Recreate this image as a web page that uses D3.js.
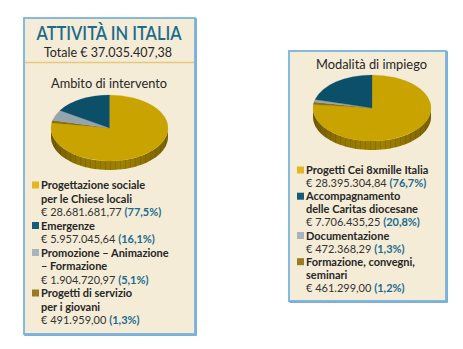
<!DOCTYPE html>
<html><head><meta charset="utf-8">
<script src="https://cdn.jsdelivr.net/npm/d3@7"></script>
<style>body{margin:0;background:#fff} svg{display:block}</style>
</head><body>
<script>
// ---------- data ----------
const leftTitle = "ATTIVITÀ IN ITALIA";
const leftTotal = "Totale € 37.035.407,38";
const leftSubtitle = "Ambito di intervento";
const leftCategories = [["Progettazione sociale", "per le Chiese locali"], ["Emergenze"], ["Promozione – Animazione", "– Formazione"], ["Progetti di servizio", "per i giovani"]];
const leftAmounts = ["€ 28.681.681,77", "€ 5.957.045,64", "€ 1.904.720,97", "€ 491.959,00"];
const leftValues = [28681681.77, 5957045.64, 1904720.97, 491959.00];
const leftPercents = ["(77,5%)", "(16,1%)", "(5,1%)", "(1,3%)"];

const rightSubtitle = "Modalità di impiego";
const rightCategories = [["Progetti Cei 8xmille Italia"], ["Accompagnamento", "delle Caritas diocesane"], ["Documentazione"], ["Formazione, convegni,", "seminari"]];
const rightAmounts = ["€ 28.395.304,84", "€ 7.706.435,25", "€ 472.368,29", "€ 461.299,00"];
const rightValues = [28395304.84, 7706435.25, 472368.29, 461299.00];
const rightPercents = ["(76,7%)", "(20,8%)", "(1,3%)", "(1,2%)"];

// clockwise drawing order of slices starting at 12 o'clock
const sliceOrder = [0, 3, 2, 1];

// ---------- style ----------
const topColors = ["#c9a300", "#0c4f68", "#95a4ad", "#8c700c"];
const keyColors = ["#e3b624", "#165b77", "#a7b4be", "#9a7c20"];
const panelFill = "#f5ecd7", panelStroke = "#79b3de";
const teal = "#1b6b8d", textDark = "#262626";
const FONT = "Lato, 'Open Sans', sans-serif";

const W = 463, H = 349;
const svg = d3.select("body").append("svg").attr("width", W).attr("height", H)
  .style("font-family", FONT);

const defs = svg.append("defs");
const grad = defs.append("linearGradient").attr("id", "sideGrad")
  .attr("x1", 0).attr("x2", 1).attr("y1", 0).attr("y2", 0);
grad.append("stop").attr("offset", "0%").attr("stop-color", "#6f5800");
grad.append("stop").attr("offset", "25%").attr("stop-color", "#937700");
grad.append("stop").attr("offset", "60%").attr("stop-color", "#a08200");
grad.append("stop").attr("offset", "100%").attr("stop-color", "#7a6100");
const pat = defs.append("pattern").attr("id", "stripes").attr("patternUnits", "userSpaceOnUse")
  .attr("width", 5).attr("height", 20);
pat.append("rect").attr("x", 0).attr("y", 0).attr("width", 0.8).attr("height", 20)
  .attr("fill", "#5a4700").attr("opacity", 0.35);

function fit(sel, target) {
  sel.each(function () {
    const len = this.getComputedTextLength();
    if (Math.abs(len - target) > 1) {
      d3.select(this).attr("textLength", target).attr("lengthAdjust", "spacingAndGlyphs");
    }
  });
}

function panel(x, y, w, h) {
  svg.append("rect").attr("x", x + 1).attr("y", y + 1).attr("width", w).attr("height", h)
    .attr("fill", "none").attr("stroke", "#5f9ccc").attr("stroke-width", 1.6);
  svg.append("rect").attr("x", x).attr("y", y).attr("width", w).attr("height", h)
    .attr("fill", panelFill).attr("stroke", panelStroke).attr("stroke-width", 1.8);
}

function pie3d(values, cx, cy, rx, ry, depth) {
  const pieGen = d3.pie().sort(null).startAngle(0).endAngle(2 * Math.PI).value(i => values[i]);
  const arcs = pieGen(sliceOrder);
  const g = svg.append("g");
  const pt = (a, dy) => [cx + rx * Math.sin(a), cy - ry * Math.cos(a) + dy];
  // side walls (front half only)
  arcs.forEach(d => {
    const s = Math.max(d.startAngle, Math.PI / 2), e = Math.min(d.endAngle, 3 * Math.PI / 2);
    if (s >= e) return;
    const n = 60, top = [], bot = [];
    for (let k = 0; k <= n; k++) {
      const a = s + (e - s) * k / n;
      top.push(pt(a, 0)); bot.push(pt(a, depth));
    }
    const path = d3.line()(top.concat(bot.reverse())) + "Z";
    const idx = d.data;
    if (idx === 0) {
      g.append("path").attr("d", path).attr("fill", "url(#sideGrad)");
      g.append("path").attr("d", path).attr("fill", "url(#stripes)");
    } else {
      g.append("path").attr("d", path).attr("fill", d3.color(topColors[idx]).darker(0.8));
    }
  });
  // top faces
  const arcGen = d3.arc().innerRadius(0).outerRadius(rx);
  const topG = svg.append("g").attr("transform", `translate(${cx},${cy}) scale(1,${ry / rx})`);
  topG.selectAll("path").data(arcs).join("path")
    .attr("d", arcGen)
    .attr("fill", d => topColors[d.data])
    .attr("stroke", d => topColors[d.data]).attr("stroke-width", 0.3);
}

function legend(cats, amounts, percents, x, y0, step, fs) {
  let y = y0;
  cats.forEach((lines, i) => {
    svg.append("rect").attr("x", x).attr("y", y - 7.5).attr("width", 7).attr("height", 7)
      .attr("fill", keyColors[i]);
    lines.forEach(line => {
      svg.append("text").attr("x", x + 9).attr("y", y).attr("font-size", fs)
        .attr("font-weight", 700).attr("fill", textDark).text(line);
      y += step;
    });
    const t = svg.append("text").attr("x", x + 9).attr("y", y).attr("font-size", fs).attr("fill", "#333");
    t.append("tspan").text(amounts[i] + " ");
    t.append("tspan").attr("font-weight", 700).attr("fill", teal).text(percents[i]);
    y += step;
  });
}

// ---------- left panel ----------
panel(24, 18, 171, 316);
svg.append("text").attr("x", 109).attr("y", 40).attr("text-anchor", "middle")
  .attr("font-size", 19).attr("font-weight", 600).attr("fill", teal).text(leftTitle)
  .call(fit, 145);
svg.append("text").attr("x", 108).attr("y", 57).attr("text-anchor", "middle")
  .attr("font-size", 13).attr("fill", textDark).text(leftTotal).call(fit, 128);
svg.append("line").attr("x1", 25).attr("x2", 194).attr("y1", 62.5).attr("y2", 62.5)
  .attr("stroke", "#e7c87a").attr("stroke-width", 1.3);
svg.append("text").attr("x", 109).attr("y", 88).attr("text-anchor", "middle")
  .attr("font-size", 13).attr("fill", textDark).text(leftSubtitle).call(fit, 116);
pie3d(leftValues, 109.5, 128, 58.5, 33, 9);
legend(leftCategories, leftAmounts, leftPercents, 32, 189, 13.5, 11);

// ---------- right panel ----------
panel(289, 51, 157, 250);
svg.append("text").attr("x", 371.5).attr("y", 69).attr("text-anchor", "middle")
  .attr("font-size", 13).attr("fill", textDark).text(rightSubtitle).call(fit, 111);
pie3d(rightValues, 372, 108, 59, 33, 9);
legend(rightCategories, rightAmounts, rightPercents, 297, 174, 13.1, 11);
</script>
</body></html>
